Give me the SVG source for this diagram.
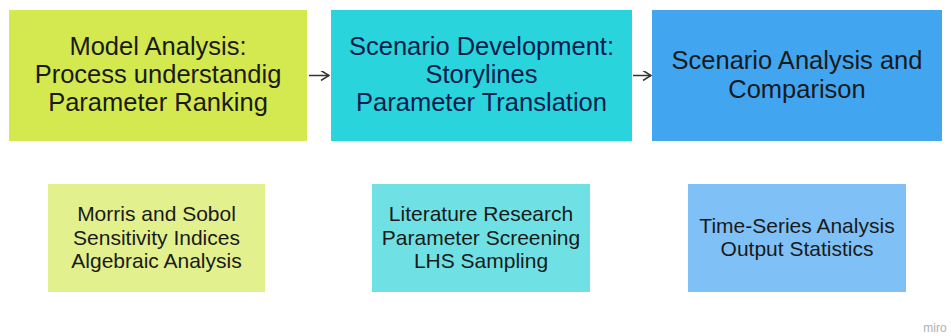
<svg xmlns="http://www.w3.org/2000/svg" width="951" height="336" viewBox="0 0 951 336">
<style>
.t{font-family:"Liberation Sans",Arial,sans-serif;font-size:25.5px;text-anchor:middle;fill:#1a1a1a}
.d{fill:#0d1b4d}
.s{font-family:"Liberation Sans",Arial,sans-serif;font-size:21px;text-anchor:middle;fill:#1a1a1a}
.c{stroke:#333;stroke-width:1.5;fill:none}
</style>
<defs>
<marker id="a" viewBox="0 0 10 10" refX="9" refY="5" markerWidth="10" markerHeight="10" markerUnits="userSpaceOnUse" orient="auto">
<path d="M1,0 L9,5 L1,10" fill="none" stroke="#333" stroke-width="1.5"/>
</marker>
</defs>
<rect width="951" height="336" fill="#fff"/>
<g id="n1"><rect x="9" y="10" width="298" height="131" fill="#d4e94f"/>
<text class="t" x="158" y="55">Model Analysis:</text>
<text class="t" x="158" y="83">Process understandig</text>
<text class="t" x="158" y="111">Parameter Ranking</text></g>
<g id="n2"><rect x="331" y="10" width="301" height="131" fill="#2ad4dc"/>
<text class="t d" x="481.5" y="55">Scenario Development:</text>
<text class="t d" x="481.5" y="83">Storylines</text>
<text class="t d" x="481.5" y="111">Parameter Translation</text></g>
<g id="n3"><rect x="652" y="10" width="290" height="131" fill="#42a5f0"/>
<text class="t" x="797" y="69">Scenario Analysis and</text>
<text class="t" x="797" y="98">Comparison</text></g>
<g id="n4"><rect x="48" y="184" width="217" height="108" fill="#e2f08e"/>
<text class="s" x="156.5" y="221">Morris and Sobol</text>
<text class="s" x="156.5" y="244.5">Sensitivity Indices</text>
<text class="s" x="156.5" y="268">Algebraic Analysis</text></g>
<g id="n5"><rect x="372" y="184" width="218" height="108" fill="#6fe1e4"/>
<text class="s" x="481" y="221">Literature Research</text>
<text class="s" x="481" y="244.5">Parameter Screening</text>
<text class="s" x="481" y="268">LHS Sampling</text></g>
<g id="n6"><rect x="688" y="184" width="218" height="108" fill="#7fc1f7"/>
<text class="s" x="797" y="233">Time-Series Analysis</text>
<text class="s" x="797" y="256">Output Statistics</text></g>
<g id="connectors">
<line class="c" x1="309" y1="75.5" x2="329" y2="75.5" marker-end="url(#a)"/>
<line class="c" x1="633" y1="75.5" x2="651" y2="75.5" marker-end="url(#a)"/>
</g>
<text x="935" y="332" font-family="'Liberation Sans',sans-serif" font-size="12" fill="#b0b0b0" text-anchor="middle">miro</text>
</svg>
